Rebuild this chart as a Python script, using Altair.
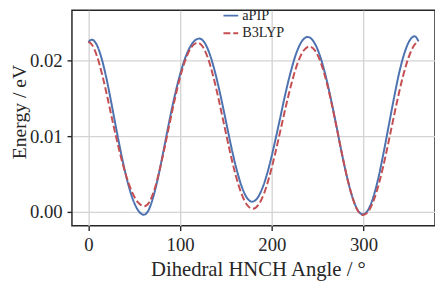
import altair as alt
import pandas as pd

# aPIP (solid blue): dihedral angle (deg) and energy (eV)
apip_angle = [0, 3.5, 8.6, 13.7, 19.0, 24.4, 30.0, 35.8, 41.8, 47.9, 54.2, 60.5,
              65.4, 70.4, 75.7, 81.2, 87.0, 93.2, 99.8, 106.6, 113.7, 120.8,
              126.6, 132.3, 138.1, 143.9, 149.7, 155.4, 161.2, 167.0, 172.7, 178.5,
              184.6, 190.6, 196.7, 202.7, 208.8, 214.8, 220.9, 226.9, 233.0, 239.0,
              245.4, 251.8, 258.1, 264.3, 270.4, 276.3, 282.2, 288.0, 293.6, 299.3,
              305.0, 310.6, 316.3, 321.9, 327.6, 333.3, 338.9, 344.6, 350.2, 355.9,
              360]
apip_energy = [0.02246, 0.0228, 0.02223, 0.02059, 0.01803, 0.0148, 0.01123, 0.00765, 0.00442, 0.00186, 0.00022, -0.00035,
               0.00022, 0.00188, 0.00445, 0.0077, 0.0113, 0.0149, 0.01815, 0.02072, 0.02238, 0.02295,
               0.02242, 0.02089, 0.0185, 0.0155, 0.01217, 0.00883, 0.00583, 0.00344, 0.00191, 0.00138,
               0.00191, 0.00346, 0.00587, 0.0089, 0.01227, 0.01564, 0.01867, 0.02108, 0.02263, 0.02316,
               0.02259, 0.02092, 0.01832, 0.01505, 0.01143, 0.00781, 0.00454, 0.00194, 0.00027, -0.0003,
               0.00028, 0.00195, 0.00455, 0.00784, 0.01148, 0.01511, 0.0184, 0.021, 0.02267, 0.02325,
               0.0226]

# B3LYP (dashed red)
b3lyp_angle = [0, 4.2, 9.6, 15.1, 20.9, 26.9, 33.3, 39.9, 46.8, 53.8, 61.0,
               66.3, 71.6, 77.0, 82.6, 88.3, 94.2, 100.2, 106.4, 112.7, 119.0,
               124.7, 130.5, 136.3, 142.2, 148.2, 154.3, 160.4, 166.6, 172.9, 179.2,
               185.4, 191.6, 197.7, 203.9, 210.1, 216.3, 222.5, 228.6, 234.8, 241.0,
               247.2, 253.4, 259.5, 265.5, 271.4, 277.2, 282.9, 288.5, 294.0, 299.5,
               305.7, 311.9, 318.1, 324.3, 330.5, 336.7, 342.9, 349.1, 355.3, 360]
b3lyp_energy = [0.0225, 0.02207, 0.02052, 0.0181, 0.01506, 0.01169, 0.00832, 0.00528, 0.00286, 0.00131, 0.00078,
                0.00131, 0.00284, 0.00524, 0.00825, 0.01159, 0.01493, 0.01794, 0.02034, 0.02187, 0.0224,
                0.02186, 0.0203, 0.01787, 0.01481, 0.01142, 0.00802, 0.00496, 0.00253, 0.00097, 0.00043,
                0.00096, 0.00248, 0.00485, 0.00785, 0.01117, 0.01448, 0.01748, 0.01985, 0.02137, 0.0219,
                0.02135, 0.01977, 0.0173, 0.0142, 0.01075, 0.0073, 0.0042, 0.00173, 0.00015, -0.0004,
                0.00016, 0.0018, 0.00434, 0.00755, 0.01111, 0.01467, 0.01788, 0.02042, 0.02206, 0.0226]

series_names = ["aPIP", "B3LYP"]
x_ticks = [0, 100, 200, 300]
y_ticks = [0.00, 0.01, 0.02]

df = pd.concat([
    pd.DataFrame({"angle": apip_angle, "energy": apip_energy,
                  "method": series_names[0], "order": range(len(apip_angle))}),
    pd.DataFrame({"angle": b3lyp_angle, "energy": b3lyp_energy,
                  "method": series_names[1], "order": range(len(b3lyp_angle))}),
])

FONT = "Liberation Serif"
INK = "#262626"

chart = alt.Chart(df).mark_line(strokeWidth=2, interpolate="monotone").encode(
    x=alt.X("angle:Q",
            scale=alt.Scale(domain=[-18, 378], nice=False, zero=False),
            axis=alt.Axis(values=x_ticks, title="Dihedral HNCH Angle / °",
                          labelPadding=5, titleX=189, titleY=51,
                          titleBaseline="alphabetic", titleAnchor="middle", titleAlign="center")),
    y=alt.Y("energy:Q",
            scale=alt.Scale(domain=[-0.0018, 0.0267], nice=False, zero=False),
            axis=alt.Axis(values=y_ticks, format=".2f", title="Energy / eV",
                          labelPadding=5, titleX=-47, titleY=103, titleAngle=270,
                          titleFontSize=20,
                          titleBaseline="alphabetic", titleAlign="center")),
    color=alt.Color("method:N",
                    scale=alt.Scale(domain=series_names, range=["#4C72B0", "#C44E52"]),
                    legend=alt.Legend(title=None, orient="none", legendX=153, legendY=-3,
                                      symbolType="stroke", symbolSize=225, symbolStrokeWidth=2,
                                      labelFont=FONT, labelFontSize=14.5, labelColor=INK,
                                      labelOffset=3, rowPadding=3, padding=0)),
    strokeDash=alt.StrokeDash("method:N",
                              scale=alt.Scale(domain=series_names, range=[[1, 0], [7, 3]]),
                              legend=alt.Legend(title=None)),
    order="order:Q",
).properties(
    width=369, height=219,
    autosize=alt.AutoSizeParams(type="none"),
    padding={"left": 65, "top": 0, "right": 0, "bottom": 56},
).configure_view(
    stroke=INK, strokeWidth=1.5,
).configure_axis(
    domain=False,
    grid=True, gridColor="#d4d4d4", gridWidth=1.4,
    ticks=True, tickColor=INK, tickSize=5, tickWidth=1.4,
    labelFont=FONT, labelFontSize=19, labelColor=INK,
    titleFont=FONT, titleFontSize=21, titleColor=INK, titleFontWeight="normal",
).configure_axisY(
    labelFlush=False,
)

chart.save("out.html", embed_options={"renderer": "svg", "actions": False})
